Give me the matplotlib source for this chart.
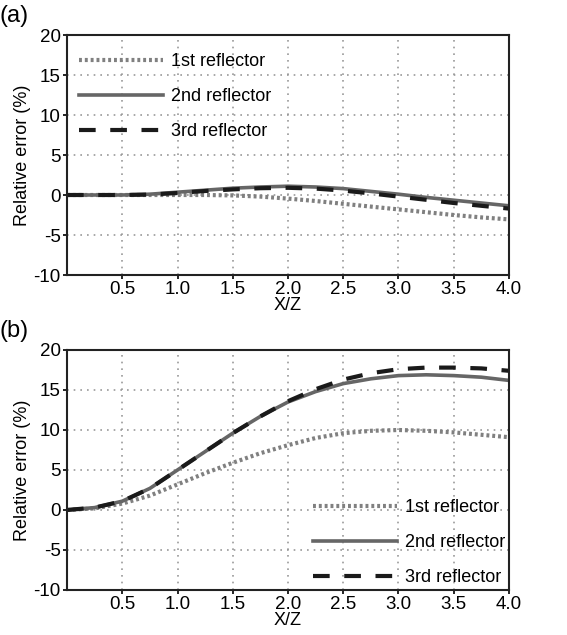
import matplotlib
matplotlib.use("Agg")
import matplotlib.pyplot as plt
import numpy as np

plt.rcParams['font.family'] = ['Liberation Sans', 'DejaVu Sans']
plt.rcParams['axes.unicode_minus'] = False

# sample positions along X/Z
xz = [0.0, 0.25, 0.5, 0.75, 1.0, 1.25, 1.5, 1.75, 2.0, 2.25, 2.5, 2.75, 3.0, 3.25, 3.5, 3.75, 4.0]

# panel (a)
a_first = [0.0, 0.0, 0.0, 0.0, 0.0, 0.0, -0.05, -0.2, -0.45, -0.75, -1.1, -1.45, -1.8, -2.15, -2.5, -2.8, -3.05]
a_second = [0.0, 0.0, 0.0, 0.1, 0.35, 0.6, 0.85, 1.0, 1.1, 1.0, 0.8, 0.45, 0.1, -0.3, -0.65, -1.0, -1.35]
a_third = [0.0, 0.0, 0.0, 0.05, 0.25, 0.5, 0.7, 0.85, 0.9, 0.8, 0.55, 0.2, -0.2, -0.6, -1.0, -1.35, -1.7]

# panel (b)
b_first = [0.0, 0.2, 0.8, 1.8, 3.2, 4.6, 5.9, 7.1, 8.1, 9.0, 9.6, 9.9, 10.0, 9.9, 9.7, 9.4, 9.1]
b_second = [0.0, 0.3, 1.1, 2.7, 5.0, 7.3, 9.6, 11.7, 13.5, 14.8, 15.8, 16.4, 16.8, 16.9, 16.8, 16.6, 16.2]
b_third = [0.0, 0.3, 1.1, 2.7, 5.0, 7.3, 9.6, 11.7, 13.6, 15.1, 16.3, 17.1, 17.6, 17.8, 17.8, 17.7, 17.4]

labels = ['1st reflector', '2nd reflector', '3rd reflector']
xticks = [0.5, 1.0, 1.5, 2.0, 2.5, 3.0, 3.5, 4.0]
yticks = [-10, -5, 0, 5, 10, 15, 20]

fig = plt.figure(figsize=(5.67, 6.35), dpi=100)
W, H = 567, 635
ax_a = fig.add_axes([67 / W, 1 - 275 / H, 442 / W, 240 / H])
ax_b = fig.add_axes([67 / W, 1 - 590 / H, 442 / W, 240 / H])


def draw(ax, first, second, third, tag, legend_anchor):
    ax.plot(xz, first, color='#808080', lw=3, ls=(0, (0.7, 0.7)), label=labels[0])
    ax.plot(xz, second, color='#666666', lw=2.6, ls='-', label=labels[1])
    ax.plot(xz, third, color='#1a1a1a', lw=3, ls=(0, (4, 3.5)), label=labels[2])
    ax.set_xlim(0, 4.0)
    ax.set_ylim(-10, 20)
    ax.set_xticks(xticks)
    ax.set_xticklabels([f"{t:.1f}" for t in xticks])
    ax.set_yticks(yticks)
    ax.tick_params(direction='out', length=3, width=1.2, labelsize=13.5, pad=1.5)
    ax.grid(True, color='#999999', ls=(0, (1, 3)), lw=1.2)
    for s in ax.spines.values():
        s.set_linewidth(1.5)
        s.set_color('#222222')
    ax.set_xlabel('X/Z', fontsize=13, labelpad=-1)
    ax.set_ylabel('Relative error (%)', fontsize=13, labelpad=2)
    ax.legend(loc='upper left', bbox_to_anchor=legend_anchor, frameon=False,
              fontsize=13, handlelength=4.65, handletextpad=0.45, labelspacing=1.0,
              borderaxespad=0)
    ax.text(-0.152, 1.035, tag, transform=ax.transAxes, fontsize=17, va='bottom', ha='left')


draw(ax_a, a_first, a_second, a_third, '(a)', (0.01, 0.955))
draw(ax_b, b_first, b_second, b_third, '(b)', (0.54, 0.408))

fig.savefig('out.png', dpi=100)
